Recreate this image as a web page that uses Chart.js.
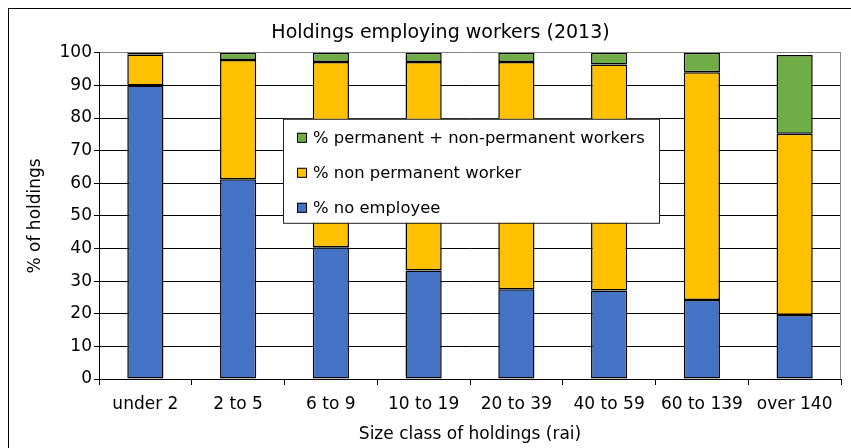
<!DOCTYPE html>
<html>
<head>
<meta charset="utf-8">
<script src="https://cdn.jsdelivr.net/npm/chart.js@4"></script>
<style>
  body { margin: 0; background: #fff; }
  #wrap { width: 851px; height: 448px; position: relative; }
</style>
</head>
<body>
<div id="wrap"><canvas id="holdingsChart"></canvas></div>
<script>
// Data
const categories = ['under 2', '2 to 5', '6 to 9', '10 to 19', '20 to 39', '40 to 59', '60 to 139', 'over 140'];
const noEmployee = [90.0, 61.2, 40.4, 33.3, 27.5, 27.1, 24.2, 19.6];
const nonPermanent = [9.5, 36.6, 56.8, 63.9, 69.7, 69.3, 69.8, 55.6];
const permanentPlus = [0.5, 2.2, 2.8, 2.8, 2.8, 3.6, 6.0, 24.1];
const yTicks = [0, 10, 20, 30, 40, 50, 60, 70, 80, 90, 100];

const FONT = 'DejaVu Sans';

// white background + outer frame + grey right edge of plot
const framePlugin = {
    id: 'frame',
    afterLayout(chart) {
        // the original picture is cropped on the right, so the title sits right of centre
        chart.titleBlock.left = 30;
        chart.titleBlock.right = chart.width;
    },
    beforeDraw(chart) {
        const c = chart.ctx;
        c.save();
        c.fillStyle = '#fff';
        c.fillRect(0, 0, chart.width, chart.height);
        c.restore();
    },
    afterDraw(chart) {
        const c = chart.ctx;
        const a = chart.chartArea;
        c.save();
        c.strokeStyle = '#000';
        c.lineWidth = 1;
        c.strokeRect(8.5, 8.5, 1000, 1000);
        c.strokeStyle = '#888';
        c.beginPath();
        c.moveTo(Math.round(a.right) - 0.5, a.top);
        c.lineTo(Math.round(a.right) - 0.5, a.bottom);
        c.stroke();
        c.restore();
    }
};

// legend box drawn inside the plot area
const boxLegend = {
    id: 'boxLegend',
    afterDatasetsDraw(chart) {
        const c = chart.ctx;
        const a = chart.chartArea;
        const x0 = a.left + 184, y0 = a.top + 66, w = 376, h = 104;
        c.save();
        c.fillStyle = '#fff';
        c.fillRect(x0, y0, w, h);
        c.strokeStyle = '#222';
        c.lineWidth = 1;
        c.strokeRect(x0 + 0.5, y0 + 0.5, w, h);
        c.font = '16.4px "' + FONT + '"';
        c.textBaseline = 'middle';
        const sets = chart.data.datasets.slice().reverse();
        sets.forEach((ds, i) => {
            const cy = y0 + 19 + i * 35;
            c.fillStyle = ds.backgroundColor;
            c.fillRect(x0 + 14, cy - 5, 10, 10);
            c.strokeStyle = '#000';
            c.strokeRect(x0 + 14.5, cy - 4.5, 9, 9);
            c.fillStyle = '#000';
            c.fillText(ds.label, x0 + 30, cy + 1);
        });
        c.restore();
    }
};

const ctx = document.getElementById('holdingsChart').getContext('2d');
const holdingsChart = new Chart(ctx, {
    type: 'bar',
    data: {
        labels: categories,
        datasets: [{
            label: '% no employee',
            data: noEmployee,
            backgroundColor: '#4472C4'
        }, {
            label: '% non permanent worker',
            data: nonPermanent,
            backgroundColor: '#FFC000'
        }, {
            label: '% permanent + non-permanent workers',
            data: permanentPlus,
            backgroundColor: '#70AD47'
        }]
    },
    options: {
        responsive: true,
        maintainAspectRatio: false,
        animation: false,
        layout: { padding: { left: 0, right: 10, top: 0, bottom: 0 } },
        datasets: {
            bar: {
                borderColor: '#000',
                borderWidth: 1.5,
                borderSkipped: false,
                categoryPercentage: 1,
                barPercentage: 0.39
            }
        },
        plugins: {
            legend: { display: false },
            tooltip: { enabled: false },
            title: {
                display: true,
                text: 'Holdings employing workers (2013)',
                color: '#000',
                font: { family: FONT, size: 19, weight: 'normal' },
                padding: { top: 22, bottom: 8 }
            }
        },
        scales: {
            x: {
                stacked: true,
                grid: { drawOnChartArea: false, drawTicks: true, tickLength: 6, color: '#000' },
                border: { color: '#000' },
                ticks: { color: '#000', padding: 9, font: { family: FONT, size: 17 }, maxRotation: 0 },
                title: {
                    display: true,
                    text: 'Size class of holdings (rai)',
                    color: '#000',
                    font: { family: FONT, size: 17 },
                    padding: { top: 0, bottom: 3 }
                },
                afterFit(s) { s.height = 69; }
            },
            y: {
                stacked: true,
                min: 0,
                max: 100,
                afterBuildTicks(s) { s.ticks = yTicks.map(v => ({ value: v })); },
                grid: {
                    color: ctx => ctx.tick && ctx.tick.value === 100 ? '#888' : '#000',
                    tickColor: '#000',
                    tickLength: 5
                },
                border: { color: '#000' },
                ticks: { color: '#000', padding: 2, font: { family: FONT, size: 17 } },
                title: {
                    display: true,
                    text: '% of holdings',
                    color: '#000',
                    font: { family: FONT, size: 17 },
                    padding: { top: 25, bottom: 0 }
                },
                afterFit(s) { s.width = 99; }
            }
        }
    },
    plugins: [framePlugin, boxLegend]
});
</script>
</body>
</html>
